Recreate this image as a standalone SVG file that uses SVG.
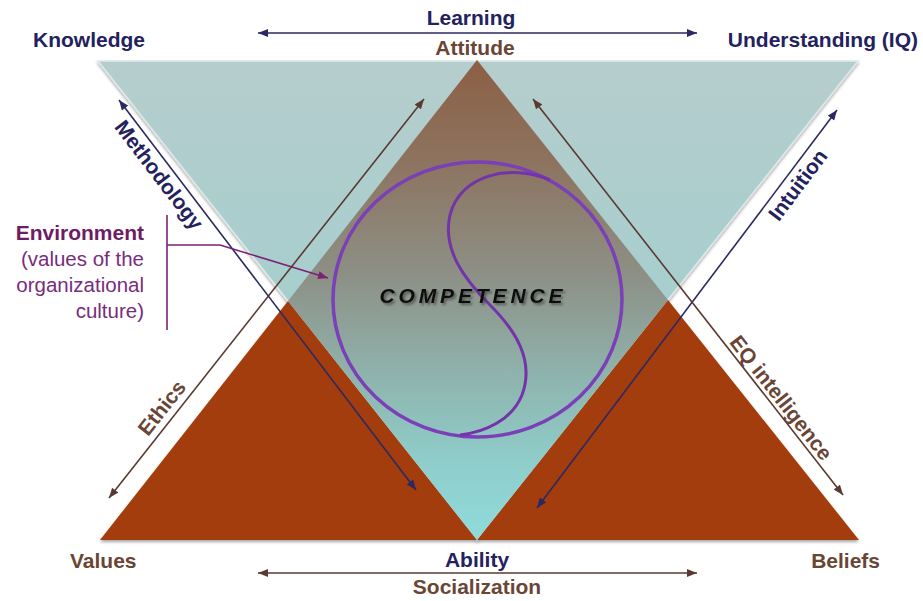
<svg xmlns="http://www.w3.org/2000/svg" width="923" height="601" viewBox="0 0 923 601">
<defs>
<style>
text{font-family:"Liberation Sans",Arial,sans-serif}
.b{font-weight:bold;font-size:21px}
.navy{fill:#23225e}
.brown{fill:#6a4535}
.env{fill:#6e1c63}
.envr{fill:#7a2c7c;font-size:20.5px}
.nl{stroke:#2a2962;stroke-width:1.6;fill:none}
.bl{stroke:#5a3a30;stroke-width:1.6;fill:none}
.pl{stroke:#7c2274;stroke-width:1.6;fill:none}
</style>
<linearGradient id="invG" gradientUnits="userSpaceOnUse" x1="0" y1="60" x2="0" y2="540">
<stop offset="0" stop-color="#b6cdcd"/>
<stop offset="0.5" stop-color="#a7cece"/>
<stop offset="1" stop-color="#8fdada"/>
</linearGradient>
<linearGradient id="diaG" gradientUnits="userSpaceOnUse" x1="0" y1="60" x2="0" y2="540">
<stop offset="0" stop-color="#8c5f44"/>
<stop offset="0.2" stop-color="#8d725e"/>
<stop offset="0.45" stop-color="#8d9086"/>
<stop offset="0.65" stop-color="#8fb2ac"/>
<stop offset="0.85" stop-color="#8fcfcc"/>
<stop offset="1" stop-color="#8fdbdb"/>
</linearGradient>
<filter id="sh" x="-10%" y="-10%" width="120%" height="120%">
<feDropShadow dx="0" dy="2" stdDeviation="1.5" flood-color="#000" flood-opacity="0.35"/>
</filter>
<filter id="tsh" x="-10%" y="-30%" width="120%" height="160%">
<feDropShadow dx="2" dy="2" stdDeviation="1.2" flood-color="#333" flood-opacity="0.6"/>
</filter>
<marker id="an" viewBox="0 0 10 8" refX="10" refY="4" markerWidth="11" markerHeight="8" markerUnits="userSpaceOnUse" orient="auto-start-reverse"><path d="M0,0 L10,4 L0,8 z" fill="#2a2962"/></marker>
<marker id="ab" viewBox="0 0 10 8" refX="10" refY="4" markerWidth="11" markerHeight="8" markerUnits="userSpaceOnUse" orient="auto-start-reverse"><path d="M0,0 L10,4 L0,8 z" fill="#5a3a30"/></marker>
<marker id="ap" viewBox="0 0 10 8" refX="10" refY="4" markerWidth="11" markerHeight="8" markerUnits="userSpaceOnUse" orient="auto"><path d="M0,0 L10,4 L0,8 z" fill="#7c2274"/></marker>
</defs>
<rect width="923" height="601" fill="#ffffff"/>

<g id="shapes">
<polygon id="inverted-triangle" points="98,61 858,61 477,540" fill="url(#invG)" stroke="#dde9e9" stroke-width="1.5" filter="url(#sh)"/>
<polygon id="left-base-triangle" points="100,540 288,301 477,540" fill="#a33c07" filter="url(#sh)"/>
<polygon id="right-base-triangle" points="477,540 668,300 859,540" fill="#a33c07" filter="url(#sh)"/>
<polygon id="diamond" points="477,60 288,301 477,540 668,300" fill="url(#diaG)"/>
</g>

<g id="competence">
<ellipse cx="477.5" cy="299.5" rx="144.5" ry="137.5" fill="none" stroke="#7b3fb8" stroke-width="3.5"/>
<path d="M550,180 C510,163 460,175 450,215 C442,250 465,280 490,305 C515,330 535,360 522,395 C512,420 485,432 460,435" fill="none" stroke="#7334a8" stroke-width="3"/>
<text x="471" y="303" text-anchor="middle" font-size="21" font-weight="bold" font-style="italic" fill="#111" textLength="183" lengthAdjust="spacing" filter="url(#tsh)">COMPETENCE</text>
</g>

<g id="connectors">
<line id="learning-arrow" x1="258" y1="33" x2="697" y2="33" class="nl" marker-start="url(#an)" marker-end="url(#an)"/>
<line id="socialization-arrow" x1="258" y1="573" x2="697" y2="573" class="bl" marker-start="url(#ab)" marker-end="url(#ab)"/>
<line id="methodology-arrow" x1="119" y1="100" x2="416" y2="490" class="nl" marker-start="url(#an)" marker-end="url(#an)"/>
<line id="intuition-arrow" x1="837" y1="110" x2="537" y2="508" class="nl" marker-start="url(#an)" marker-end="url(#an)"/>
<line id="ethics-arrow" x1="424" y1="99" x2="109" y2="498" class="bl" marker-start="url(#ab)" marker-end="url(#ab)"/>
<line id="eq-arrow" x1="533" y1="99" x2="843" y2="495" class="bl" marker-start="url(#ab)" marker-end="url(#ab)"/>
<path id="environment-bracket" d="M167,215 L167,330 M167,245 L220,245" class="pl"/>
<path id="environment-arrow" d="M220,245 L328,278" class="pl" marker-end="url(#ap)"/>
</g>

<g id="label-learning"><text x="471" y="25" text-anchor="middle" class="b navy">Learning</text></g>
<g id="label-attitude"><text x="475" y="55" text-anchor="middle" class="b brown">Attitude</text></g>
<g id="label-knowledge"><text x="33" y="47" class="b navy">Knowledge</text></g>
<g id="label-understanding"><text x="918" y="47" text-anchor="end" class="b navy">Understanding (IQ)</text></g>
<g id="label-values"><text x="70" y="568" class="b brown">Values</text></g>
<g id="label-ability"><text x="477" y="567" text-anchor="middle" class="b navy">Ability</text></g>
<g id="label-beliefs"><text x="880" y="568" text-anchor="end" class="b brown">Beliefs</text></g>
<g id="label-socialization"><text x="477" y="594" text-anchor="middle" class="b brown">Socialization</text></g>
<g id="label-methodology" transform="translate(159,175) rotate(52.7)"><text x="0" y="7" text-anchor="middle" class="b navy">Methodology</text></g>
<g id="label-intuition" transform="translate(798,185) rotate(-53)"><text x="0" y="7" text-anchor="middle" class="b navy">Intuition</text></g>
<g id="label-ethics" transform="translate(162,408) rotate(-51.7)"><text x="0" y="7" text-anchor="middle" class="b brown">Ethics</text></g>
<g id="label-eq" transform="translate(781,398) rotate(51.9)"><text x="0" y="7" text-anchor="middle" class="b brown">EQ intelligence</text></g>
<g id="label-environment">
<text x="144" y="240" text-anchor="end" class="env" font-size="21" font-weight="bold">Environment</text>
<text x="144" y="266" text-anchor="end" class="envr">(values of the</text>
<text x="144" y="292" text-anchor="end" class="envr">organizational</text>
<text x="144" y="318" text-anchor="end" class="envr">culture)</text>
</g>
</svg>
